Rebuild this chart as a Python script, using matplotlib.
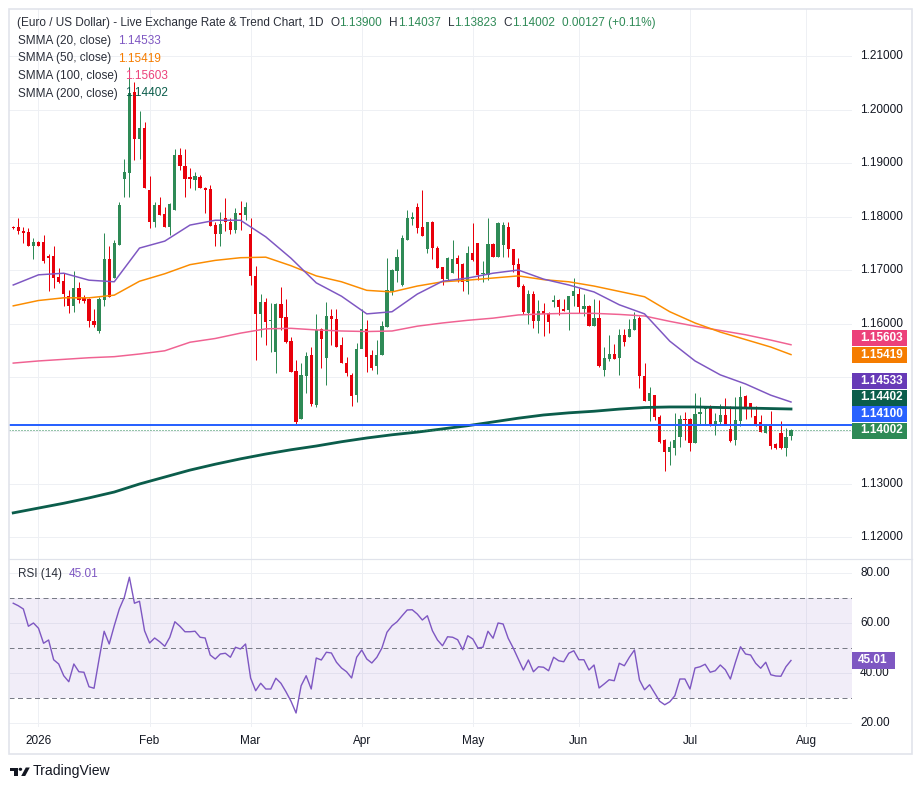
import matplotlib
matplotlib.use("Agg")
import matplotlib.pyplot as plt
import matplotlib.transforms as mtransforms
from matplotlib.patches import Rectangle, Polygon, Circle
from matplotlib.lines import Line2D

plt.rcParams['font.family'] = ['Liberation Sans', 'DejaVu Sans']

# ---------------- data ----------------
opens = [1.1780, 1.1781, 1.1773, 1.1771, 1.1744, 1.1753, 1.1752, 1.1726, 1.1727, 1.1687,
         1.1679, 1.1651, 1.1632, 1.1666, 1.1647, 1.1645, 1.1604, 1.1586, 1.1644, 1.1720,
         1.1686, 1.1747, 1.1871, 1.1882, 1.2033, 1.1945, 1.1965, 1.1850, 1.1790, 1.1822,
         1.1805, 1.1781, 1.1812, 1.1915, 1.1894, 1.1873, 1.1868, 1.1874, 1.1854, 1.1851,
         1.1784, 1.1767, 1.1798, 1.1790, 1.1775, 1.1807, 1.1802, 1.1767, 1.1689, 1.1617,
         1.1640, 1.1605, 1.1547, 1.1636, 1.1613, 1.1568, 1.1512, 1.1421, 1.1502, 1.1541,
         1.1448, 1.1590, 1.1536, 1.1614, 1.1608, 1.1560, 1.1527, 1.1504, 1.1466, 1.1552,
         1.1590, 1.1541, 1.1521, 1.1541, 1.1594, 1.1661, 1.1699, 1.1672, 1.1757, 1.1795,
         1.1818, 1.1781, 1.1740, 1.1790, 1.1742, 1.1705, 1.1683, 1.1695, 1.1722, 1.1712,
         1.1678, 1.1732, 1.1750, 1.1692, 1.1691, 1.1749, 1.1725, 1.1747, 1.1781, 1.1739,
         1.1711, 1.1670, 1.1619, 1.1656, 1.1605, 1.1623, 1.1619, 1.1641, 1.1644, 1.1628,
         1.1626, 1.1651, 1.1655, 1.1627, 1.1633, 1.1596, 1.1610, 1.1514, 1.1534, 1.1543,
         1.1536, 1.1579, 1.1575, 1.1588, 1.1610, 1.1502, 1.1456, 1.1466, 1.1426, 1.1382,
         1.1359, 1.1368, 1.1387, 1.1421, 1.1421, 1.1376, 1.1430, 1.1440, 1.1443, 1.1410,
         1.1415, 1.1429, 1.1402, 1.1382, 1.1418, 1.1464, 1.1451, 1.1428, 1.1415, 1.1396,
         1.1412, 1.1375, 1.1396, 1.1367, 1.13900]
highs = [1.1782, 1.1797, 1.1781, 1.1778, 1.1759, 1.1754, 1.1765, 1.1729, 1.1744, 1.1703,
         1.1694, 1.1663, 1.1699, 1.1678, 1.1653, 1.1647, 1.1628, 1.1649, 1.1769, 1.1744,
         1.1756, 1.1828, 1.1907, 1.2080, 1.2052, 1.1998, 1.1977, 1.1876, 1.1828, 1.1837,
         1.1818, 1.1826, 1.1927, 1.1929, 1.1927, 1.1890, 1.1884, 1.1878, 1.1856, 1.1859,
         1.1790, 1.1809, 1.1834, 1.1797, 1.1815, 1.1829, 1.1828, 1.1797, 1.1708, 1.1655,
         1.1647, 1.1638, 1.1639, 1.1669, 1.1646, 1.1575, 1.1531, 1.1526, 1.1547, 1.1557,
         1.1617, 1.1591, 1.1640, 1.1628, 1.1628, 1.1575, 1.1538, 1.1507, 1.1564, 1.1628,
         1.1607, 1.1551, 1.1570, 1.1604, 1.1722, 1.1701, 1.1739, 1.1765, 1.1812, 1.1809,
         1.1826, 1.1849, 1.1790, 1.1792, 1.1744, 1.1706, 1.1724, 1.1756, 1.1728, 1.1713,
         1.1745, 1.1787, 1.1751, 1.1716, 1.1797, 1.1750, 1.1789, 1.1789, 1.1789, 1.1740,
         1.1722, 1.1673, 1.1663, 1.1660, 1.1644, 1.1638, 1.1622, 1.1653, 1.1645, 1.1645,
         1.1652, 1.1686, 1.1666, 1.1655, 1.1635, 1.1645, 1.1644, 1.1556, 1.1579, 1.1562,
         1.1589, 1.1589, 1.1608, 1.1621, 1.1614, 1.1527, 1.1481, 1.1467, 1.1429, 1.1384,
         1.1381, 1.1433, 1.1429, 1.1435, 1.1423, 1.1471, 1.1462, 1.1446, 1.1448, 1.1432,
         1.1449, 1.1461, 1.1446, 1.1462, 1.1483, 1.1466, 1.1451, 1.1446, 1.1429, 1.1413,
         1.1437, 1.1376, 1.1418, 1.1404, 1.14037]
lows = [1.1777, 1.1768, 1.1751, 1.1744, 1.1720, 1.1744, 1.1714, 1.1660, 1.1666, 1.1675,
        1.1632, 1.1619, 1.1622, 1.1638, 1.1638, 1.1594, 1.1594, 1.1582, 1.1633, 1.1650,
        1.1686, 1.1747, 1.1837, 1.1837, 1.1906, 1.1907, 1.1853, 1.1778, 1.1781, 1.1803,
        1.1781, 1.1765, 1.1812, 1.1887, 1.1836, 1.1853, 1.1850, 1.1853, 1.1807, 1.1782,
        1.1744, 1.1744, 1.1772, 1.1767, 1.1769, 1.1775, 1.1794, 1.1672, 1.1531, 1.1575,
        1.1560, 1.1547, 1.1508, 1.1588, 1.1563, 1.1510, 1.1412, 1.1421, 1.1470, 1.1445,
        1.1443, 1.1516, 1.1485, 1.1560, 1.1557, 1.1526, 1.1501, 1.1445, 1.1454, 1.1554,
        1.1510, 1.1513, 1.1506, 1.1541, 1.1594, 1.1653, 1.1678, 1.1670, 1.1756, 1.1784,
        1.1769, 1.1764, 1.1731, 1.1720, 1.1703, 1.1672, 1.1680, 1.1695, 1.1678, 1.1661,
        1.1656, 1.1717, 1.1681, 1.1678, 1.1681, 1.1724, 1.1724, 1.1725, 1.1724, 1.1697,
        1.1668, 1.1618, 1.1600, 1.1591, 1.1583, 1.1577, 1.1582, 1.1630, 1.1616, 1.1624,
        1.1587, 1.1633, 1.1619, 1.1614, 1.1595, 1.1595, 1.1518, 1.1501, 1.1529, 1.1533,
        1.1504, 1.1558, 1.1575, 1.1587, 1.1479, 1.1456, 1.1418, 1.1420, 1.1376, 1.1325,
        1.1336, 1.1354, 1.1370, 1.1382, 1.1362, 1.1376, 1.1410, 1.1412, 1.1408, 1.1392,
        1.1413, 1.1413, 1.1379, 1.1373, 1.1408, 1.1421, 1.1426, 1.1408, 1.1397, 1.1395,
        1.1365, 1.1366, 1.1365, 1.1353, 1.13823]
closes = [1.1779, 1.1773, 1.1770, 1.1744, 1.1753, 1.1745, 1.1717, 1.1723, 1.1686, 1.1678,
          1.1656, 1.1632, 1.1666, 1.1644, 1.1643, 1.1604, 1.1597, 1.1646, 1.1720, 1.1650,
          1.1750, 1.1822, 1.1884, 1.2030, 1.1945, 1.1965, 1.1853, 1.1790, 1.1822, 1.1803,
          1.1781, 1.1823, 1.1915, 1.1894, 1.1871, 1.1871, 1.1876, 1.1853, 1.1850, 1.1782,
          1.1767, 1.1786, 1.1789, 1.1775, 1.1806, 1.1802, 1.1817, 1.1689, 1.1617, 1.1640,
          1.1603, 1.1607, 1.1636, 1.1610, 1.1565, 1.1510, 1.1416, 1.1504, 1.1540, 1.1450,
          1.1588, 1.1571, 1.1614, 1.1608, 1.1557, 1.1527, 1.1508, 1.1465, 1.1552, 1.1590,
          1.1538, 1.1516, 1.1541, 1.1595, 1.1663, 1.1700, 1.1724, 1.1759, 1.1797, 1.1800,
          1.1779, 1.1764, 1.1790, 1.1742, 1.1704, 1.1683, 1.1722, 1.1721, 1.1712, 1.1678,
          1.1732, 1.1719, 1.1691, 1.1695, 1.1749, 1.1725, 1.1787, 1.1784, 1.1739, 1.1709,
          1.1669, 1.1621, 1.1656, 1.1605, 1.1623, 1.1618, 1.1602, 1.1644, 1.1630, 1.1624,
          1.1651, 1.1660, 1.1630, 1.1633, 1.1596, 1.1611, 1.1521, 1.1536, 1.1543, 1.1534,
          1.1579, 1.1566, 1.1589, 1.1608, 1.1501, 1.1456, 1.1471, 1.1426, 1.1379, 1.1360,
          1.1370, 1.1383, 1.1421, 1.1420, 1.1376, 1.1431, 1.1434, 1.1443, 1.1410, 1.1417,
          1.1429, 1.1413, 1.1380, 1.1420, 1.1462, 1.1441, 1.1440, 1.1412, 1.1398, 1.1412,
          1.1371, 1.1368, 1.1367, 1.1387, 1.14002]

month_pos = [5, 27, 47, 69, 91, 112, 134, 157]
month_labels = ['2026', 'Feb', 'Mar', 'Apr', 'May', 'Jun', 'Jul', 'Aug']

smma_idx = [0, 5, 10, 15, 20, 25, 30, 35, 40, 45, 50, 55, 60, 65, 70, 75, 80, 85, 90, 95,
            100, 105, 110, 115, 120, 125, 130, 135, 140, 145, 150, 154]
smma20 = [1.1672, 1.1691, 1.1694, 1.1681, 1.1678, 1.1741, 1.1754, 1.1784, 1.1793, 1.1793,
          1.1762, 1.1722, 1.1676, 1.1651, 1.1618, 1.1622, 1.1655, 1.1679, 1.1685, 1.1694,
          1.1700, 1.1683, 1.1672, 1.1659, 1.1635, 1.1618, 1.1567, 1.1530, 1.1504, 1.1487,
          1.1466, 1.14533]
smma50 = [1.1633, 1.1643, 1.1648, 1.1648, 1.1653, 1.1679, 1.1693, 1.1710, 1.1718, 1.1723,
          1.1724, 1.1708, 1.1689, 1.1678, 1.1662, 1.1659, 1.1670, 1.1678, 1.1681, 1.1685,
          1.1689, 1.1682, 1.1678, 1.1670, 1.1660, 1.1650, 1.1622, 1.1601, 1.1584, 1.1570,
          1.1556, 1.15419]
smma100 = [1.1526, 1.1530, 1.1533, 1.1536, 1.1538, 1.1543, 1.1549, 1.1565, 1.1572, 1.1582,
           1.1590, 1.1591, 1.1588, 1.1586, 1.1585, 1.1586, 1.1595, 1.1601, 1.1606, 1.1610,
           1.1616, 1.1618, 1.1619, 1.1619, 1.1617, 1.1614, 1.1604, 1.1595, 1.1587, 1.1579,
           1.1569, 1.15603]
smma200 = [1.1246, 1.1255, 1.1264, 1.1274, 1.1285, 1.1300, 1.1313, 1.1326, 1.1337, 1.1347,
           1.1356, 1.1364, 1.1371, 1.1379, 1.1386, 1.1392, 1.1397, 1.1403, 1.1409, 1.1416,
           1.1423, 1.1429, 1.1433, 1.1436, 1.1440, 1.1443, 1.1444, 1.1444, 1.1443, 1.1442,
           1.1441, 1.14402]

rsi = [67.9, 66.9, 65.6, 58.7, 60.0, 57.9, 51.9, 53.2, 45.3, 43.6,
       38.9, 36.5, 43.6, 40.5, 40.3, 34.5, 33.9, 45.6, 56.7, 51.6,
       58.9, 65.6, 70.3, 78.3, 67.9, 68.7, 56.9, 52.0, 54.0, 52.5,
       50.7, 54.3, 60.5, 58.7, 56.5, 56.5, 56.7, 54.3, 54.0, 47.2,
       45.6, 47.6, 47.9, 46.3, 50.3, 49.6, 51.6, 38.0, 32.9, 35.9,
       33.6, 33.6, 37.9, 35.9, 32.5, 28.7, 24.0, 34.9, 38.9, 33.6,
       46.0, 45.2, 48.3, 48.0, 44.3, 42.0, 40.5, 38.0, 46.3, 49.2,
       45.6, 44.0, 46.3, 50.0, 56.3, 58.9, 60.5, 62.9, 65.2, 65.3,
       63.6, 61.2, 62.9, 56.9, 53.2, 50.9, 54.5, 54.3, 53.3, 49.3,
       54.9, 53.6, 50.0, 50.3, 56.7, 53.9, 60.0, 59.6, 53.9, 50.0,
       45.6, 41.2, 45.2, 40.5, 42.5, 42.3, 40.9, 46.3, 44.9, 44.5,
       47.9, 48.9, 45.3, 45.3, 41.2, 43.2, 34.0, 35.6, 37.3, 36.9,
       43.9, 42.9, 46.3, 49.2, 37.2, 33.3, 35.3, 32.0, 28.7, 27.3,
       28.5, 30.9, 37.6, 37.6, 33.6, 42.0, 42.5, 43.5, 40.3, 40.9,
       43.2, 41.3, 37.6, 44.3, 50.5, 47.6, 47.2, 43.9, 41.9, 44.3,
       39.3, 38.8, 38.7, 42.5, 45.01]

price_ticks = [1.12, 1.13, 1.14, 1.15, 1.16, 1.17, 1.18, 1.19, 1.20, 1.21]
rsi_ticks = [20, 40, 60, 80]
rsi_levels = [30, 50, 70]
hline_price = 1.14100

title_text = "(Euro / US Dollar) - Live Exchange Rate & Trend Chart, 1D"
change_text = "0.00127 (+0.11%)"
smma_names = ["SMMA (20, close)", "SMMA (50, close)", "SMMA (100, close)", "SMMA (200, close)"]

# ---------------- style ----------------
GREEN = '#2E8A56'
RED = '#E8000B'
DARK = '#131722'
LEG = '#2A2E39'
GRID = '#EEF0F4'
C20, C50, C100, C200 = '#7E57C2', '#FB8C00', '#F06292', '#0B5D4B'
B20, B50, B100, B200 = '#673AB7', '#F57C00', '#EC407A', '#0B5D4B'
BLUE = '#2962FF'

W, H = 922, 790
fig = plt.figure(figsize=(W / 100, H / 100), dpi=100)
fig.patch.set_facecolor('white')


def fx(x):
    return x / W


def fy(y):
    return 1 - y / H


PX = 0.72  # points per pixel
FS = 11.75 * PX

ax = fig.add_axes([fx(9), fy(559), (852 - 9) / W, (559 - 9) / H])
ax2 = fig.add_axes([fx(9), fy(727), (852 - 9) / W, (727 - 559) / H])
for a in (ax, ax2):
    a.set_xlim(-0.84, 166.08)
    a.axis('off')
ax.set_ylim(1.11598, 1.21879)
ax2.set_ylim(18.4, 85.6)

# grid
for p in price_ticks:
    ax.axhline(p, color=GRID, lw=1 * PX, zorder=0)
for r in rsi_ticks:
    ax2.axhline(r, color=GRID, lw=1 * PX, zorder=0)
for m in month_pos:
    ax.axvline(m, color=GRID, lw=1 * PX, zorder=0)
    ax2.axvline(m, color=GRID, lw=1 * PX, zorder=0)

# candles
xs = list(range(len(opens)))
cols = [GREEN if c >= o else RED for o, c in zip(opens, closes)]
ax.vlines(xs, lows, highs, colors=cols, lw=1.0 * PX, zorder=3)
bottoms = [min(o, c) for o, c in zip(opens, closes)]
heights = [max(abs(c - o), 0.00017) for o, c in zip(opens, closes)]
ax.bar(xs, heights, bottom=bottoms, width=0.64, color=cols, lw=0, zorder=4)

# moving averages
ax.plot(smma_idx, smma100, color=C100, lw=1.5 * PX, zorder=5, solid_joinstyle='round')
ax.plot(smma_idx, smma50, color=C50, lw=1.5 * PX, zorder=5, solid_joinstyle='round')
ax.plot(smma_idx, smma20, color=C20, lw=1.5 * PX, zorder=5, solid_joinstyle='round')
ax.plot(smma_idx, smma200, color=C200, lw=2.8 * PX, zorder=5, solid_joinstyle='round')

# horizontal line and last price line
ax.axhline(hline_price, color=BLUE, lw=2 * PX, zorder=6)
ax.axhline(closes[-1], color=GREEN, lw=1 * PX, ls=(0, (1, 2)), zorder=6)

# price scale: badges with collision stacking
ppx = (1.21879 - 1.11598) / 550.0
bh = 16.5 * ppx
trans_p = mtransforms.blended_transform_factory(fig.transFigure, ax.transData)
badges = [(closes[-1], GREEN), (hline_price, BLUE), (smma200[-1], B200),
          (smma20[-1], B20), (smma50[-1], B50), (smma100[-1], B100)]
badges.sort(key=lambda b: b[0])
placed = []
prev = None
for v, c in badges:
    pos = v if prev is None else max(v, prev + bh)
    placed.append((pos, v, c))
    prev = pos

for p in price_ticks:
    if any(abs(p - pos) < 0.8 * bh for pos, _, _ in placed):
        continue
    fig.text(fx(860), p, f"{p:.5f}", transform=trans_p, fontsize=FS,
             color=DARK, ha='left', va='center')

for pos, v, c in placed:
    rect = Rectangle((fx(852), pos - bh / 2), fx(907) - fx(852), bh * 0.97,
                     transform=trans_p, facecolor=c, edgecolor='none', clip_on=False, zorder=10)
    fig.add_artist(rect)
    fig.text(fx(860), pos, f"{v:.5f}", transform=trans_p, fontsize=FS,
             color='white', ha='left', va='center', fontweight='bold', zorder=11)

# RSI pane
ax2.axhspan(30, 70, color='#7E57C2', alpha=0.10, lw=0, zorder=1)
for lv in rsi_levels:
    ax2.axhline(lv, color='#787B86', lw=1.0 * PX, ls=(0, (5, 3.5)), zorder=2)
ax2.plot(range(len(rsi)), rsi, color='#7E57C2', lw=1.4 * PX, zorder=4)

trans_r = mtransforms.blended_transform_factory(fig.transFigure, ax2.transData)
for r in rsi_ticks:
    fig.text(fx(860), r, f"{r:.2f}", transform=trans_r, fontsize=FS,
             color=DARK, ha='left', va='center')
rb = 16.5 * (85.6 - 18.4) / 168.0
fig.add_artist(Rectangle((fx(852), rsi[-1] - rb / 2), fx(895) - fx(852), rb,
                         transform=trans_r, facecolor='#7E57C2', edgecolor='none',
                         clip_on=False, zorder=10))
fig.text(fx(858), rsi[-1], f"{rsi[-1]:.2f}", transform=trans_r, fontsize=FS,
         color='white', ha='left', va='center', fontweight='bold', zorder=11)

# time axis labels
trans_t = mtransforms.blended_transform_factory(ax2.transData, fig.transFigure)
for m, lab in zip(month_pos, month_labels):
    fig.text(m, fy(741), lab, transform=trans_t, fontsize=FS, color=DARK,
             ha='center', va='center')

# frame and separators
fig.add_artist(Rectangle((fx(9), fy(754)), fx(912) - fx(9), (754 - 9) / H,
                         transform=fig.transFigure, fill=False, edgecolor='#E0E3EB',
                         lw=1.6 * PX))
fig.add_artist(Line2D([fx(9), fx(912)], [fy(559), fy(559)], transform=fig.transFigure,
                      color='#E0E3EB', lw=1.2 * PX))

# header legend text (sequential coloured parts)
renderer = fig.canvas.get_renderer()


def draw_parts(x_px, y_px, parts, size):
    x = x_px
    for s, c, gap in parts:
        t = fig.text(fx(x), fy(y_px), s, color=c, fontsize=size, ha='left', va='center')
        bb = t.get_window_extent(renderer=renderer)
        x += bb.width + gap


draw_parts(17, 23, [
    (title_text, LEG, 7),
    ("O", LEG, 0), (f"{opens[-1]:.5f}", GREEN, 7),
    ("H", LEG, 0), (f"{highs[-1]:.5f}", GREEN, 7),
    ("L", LEG, 0), (f"{lows[-1]:.5f}", GREEN, 7),
    ("C", LEG, 0), (f"{closes[-1]:.5f}", GREEN, 7),
    (change_text, GREEN, 0)], FS)

leg_vals = [(smma20[-1], C20), (smma50[-1], B50), (smma100[-1], B100), (smma200[-1], B200)]
for k, (name, (v, c)) in enumerate(zip(smma_names, leg_vals)):
    draw_parts(18, 41 + 17.5 * k, [(name, LEG, 7), (f"{v:.5f}", c, 0)], FS)

draw_parts(18, 574, [("RSI (14)", LEG, 7), (f"{rsi[-1]:.2f}", '#7E57C2', 0)], FS)

# TradingView logo
logo_col = '#131722'
fig.add_artist(Rectangle((fx(10), fy(770.8)), fx(17.8) - fx(10), 3.3 / H,
                         transform=fig.transFigure, color=logo_col, lw=0))
fig.add_artist(Rectangle((fx(14.2), fy(776)), fx(17.8) - fx(14.2), 8.5 / H,
                         transform=fig.transFigure, color=logo_col, lw=0))
fig.add_artist(Polygon([(fx(21.2), fy(776)), (fx(25.2), fy(776)),
                        (fx(29.8), fy(767.5)), (fx(25.8), fy(767.5))],
                       closed=True, transform=fig.transFigure, color=logo_col, lw=0))
fig.add_artist(Circle((fx(20.4), fy(769.3)), 1.8 / W, transform=fig.transFigure,
                      color=logo_col, lw=0))
fig.text(fx(33), fy(771.5), "TradingView", fontsize=14 * PX, color=logo_col,
         ha='left', va='center')

fig.savefig('out.png', dpi=100)
